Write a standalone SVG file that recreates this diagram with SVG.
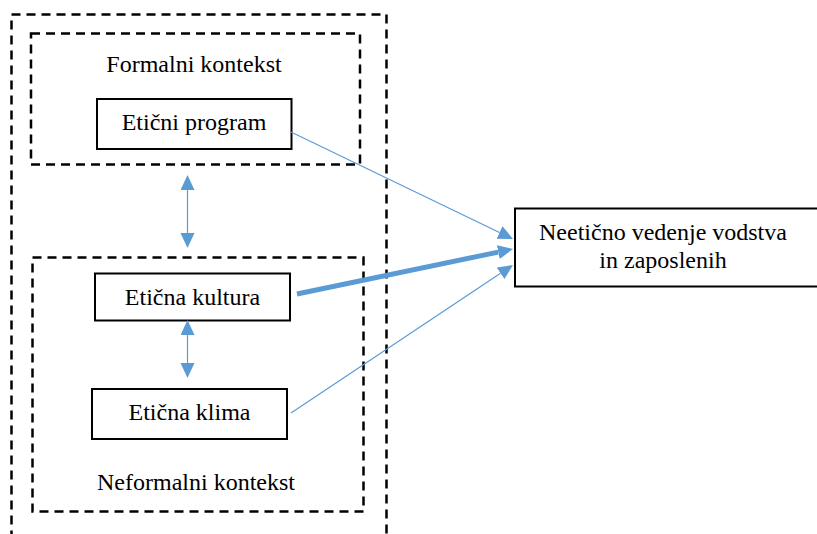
<svg xmlns="http://www.w3.org/2000/svg" width="817" height="534" viewBox="0 0 817 534">
<style>
.dash{fill:none;stroke:#000;stroke-width:2.5;stroke-dasharray:9 6}
.box{fill:#fff;stroke:#000;stroke-width:2}
.t{font-family:'Liberation Serif','Times New Roman',Tinos,'DejaVu Serif',serif;font-size:24px;fill:#000;text-anchor:middle}
.c{stroke:#5B9BD5;fill:none;stroke-width:1.2}
.thick{stroke:#5B9BD5;fill:none;stroke-width:5}
</style>
<defs>
<marker id="ah" markerUnits="userSpaceOnUse" markerWidth="16" markerHeight="16" refX="0" refY="7" orient="auto-start-reverse">
<path d="M0,0 L15,7 L0,14 z" fill="#5B9BD5"/>
</marker>
</defs>
<g id="outer"><rect class="dash" x="11.5" y="14.5" width="375" height="540"/></g>
<g id="formalni">
<rect class="dash" x="31" y="33.5" width="329" height="131"/>
<text class="t" x="194" y="72">Formalni kontekst</text>
</g>
<g id="neformalni">
<rect class="dash" x="32.5" y="257.5" width="331" height="254"/>
<text class="t" x="196" y="490">Neformalni kontekst</text>
</g>
<g id="program">
<rect class="box" x="97" y="99" width="194.5" height="50"/>
<text class="t" x="194" y="130">Etični program</text>
</g>
<g id="kultura">
<rect class="box" x="95" y="273.5" width="195" height="47"/>
<text class="t" x="192.5" y="305">Etična kultura</text>
</g>
<g id="klima">
<rect class="box" x="92" y="389" width="195" height="50"/>
<text class="t" x="189.5" y="420">Etična klima</text>
</g>
<g id="vedenje">
<rect class="box" x="515" y="208.5" width="310" height="78"/>
<text class="t" x="663" y="240">Neetično vedenje vodstva</text>
<text class="t" x="663" y="268">in zaposlenih</text>
</g>
<g id="connectors">
<line class="c" x1="187.5" y1="190" x2="187.5" y2="233" marker-start="url(#ah)" marker-end="url(#ah)"/>
<line class="c" x1="187.5" y1="335" x2="187.5" y2="363" marker-start="url(#ah)" marker-end="url(#ah)"/>
<line class="c" x1="291" y1="132" x2="499.5" y2="232.5" marker-end="url(#ah)"/>
<line class="thick" x1="297" y1="294" x2="498.3" y2="252.1" marker-end="url(#ah)"/>
<line class="c" x1="291" y1="413" x2="500.5" y2="273.3" marker-end="url(#ah)"/>
</g>
</svg>
